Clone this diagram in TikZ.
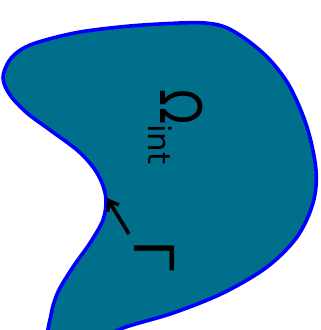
\documentclass[tikz,border=0pt]{standalone}
\usepackage{fontspec}
\setmainfont{DejaVu Sans}
\usetikzlibrary{arrows.meta}
\definecolor{regionFill}{RGB}{0, 111, 140}
\definecolor{regionEdge}{RGB}{0, 0, 255}

\begin{document}
\begin{tikzpicture}[x=1pt, y=-1pt]
            \useasboundingbox (0,0) rectangle (321,330);
            \clip (0,0) rectangle (321,330);
            \draw[draw=regionEdge, fill=regionFill, line width=3.6pt] plot[smooth cycle, tension=0.55] coordinates {
                (3,78) (9,61) (22,49) (42,41) (80,32) (130,26) (180,23) (205,23) (225,27)
                (247,40) (270,60) (290,87) (307,127) (316,170) (313,203) (297,237) (267,267)
                (223,293) (173,313) (123,328) (85,345) (50,340) (51,315) (58,292) (73,267)
                (90,243) (103,220) (106,200) (102,183) (93,167) (77,150) (50,130) (27,113) (10,95)
            };
            \node[rotate=-90, anchor=base west, inner sep=0pt, font=\fontsize{46}{46}\selectfont] (omega) at (160,89)
                {\scalebox{1}[1.25]{Ω}\raisebox{-0.26em}{\fontsize{31}{31}\selectfont int}};
            \node[rotate=-90, anchor=base west, inner sep=0pt, font=\fontsize{55}{55}\selectfont] (gamma) at (134,240) {Γ};
            \coordinate (gtail) at (129,234);
            \coordinate (gtip) at (107,198);
            \draw[line width=3.6pt, -{Straight Barb[length=9pt, width=13pt]}] (gtail) -- (gtip);
        \end{tikzpicture}
\end{document}
